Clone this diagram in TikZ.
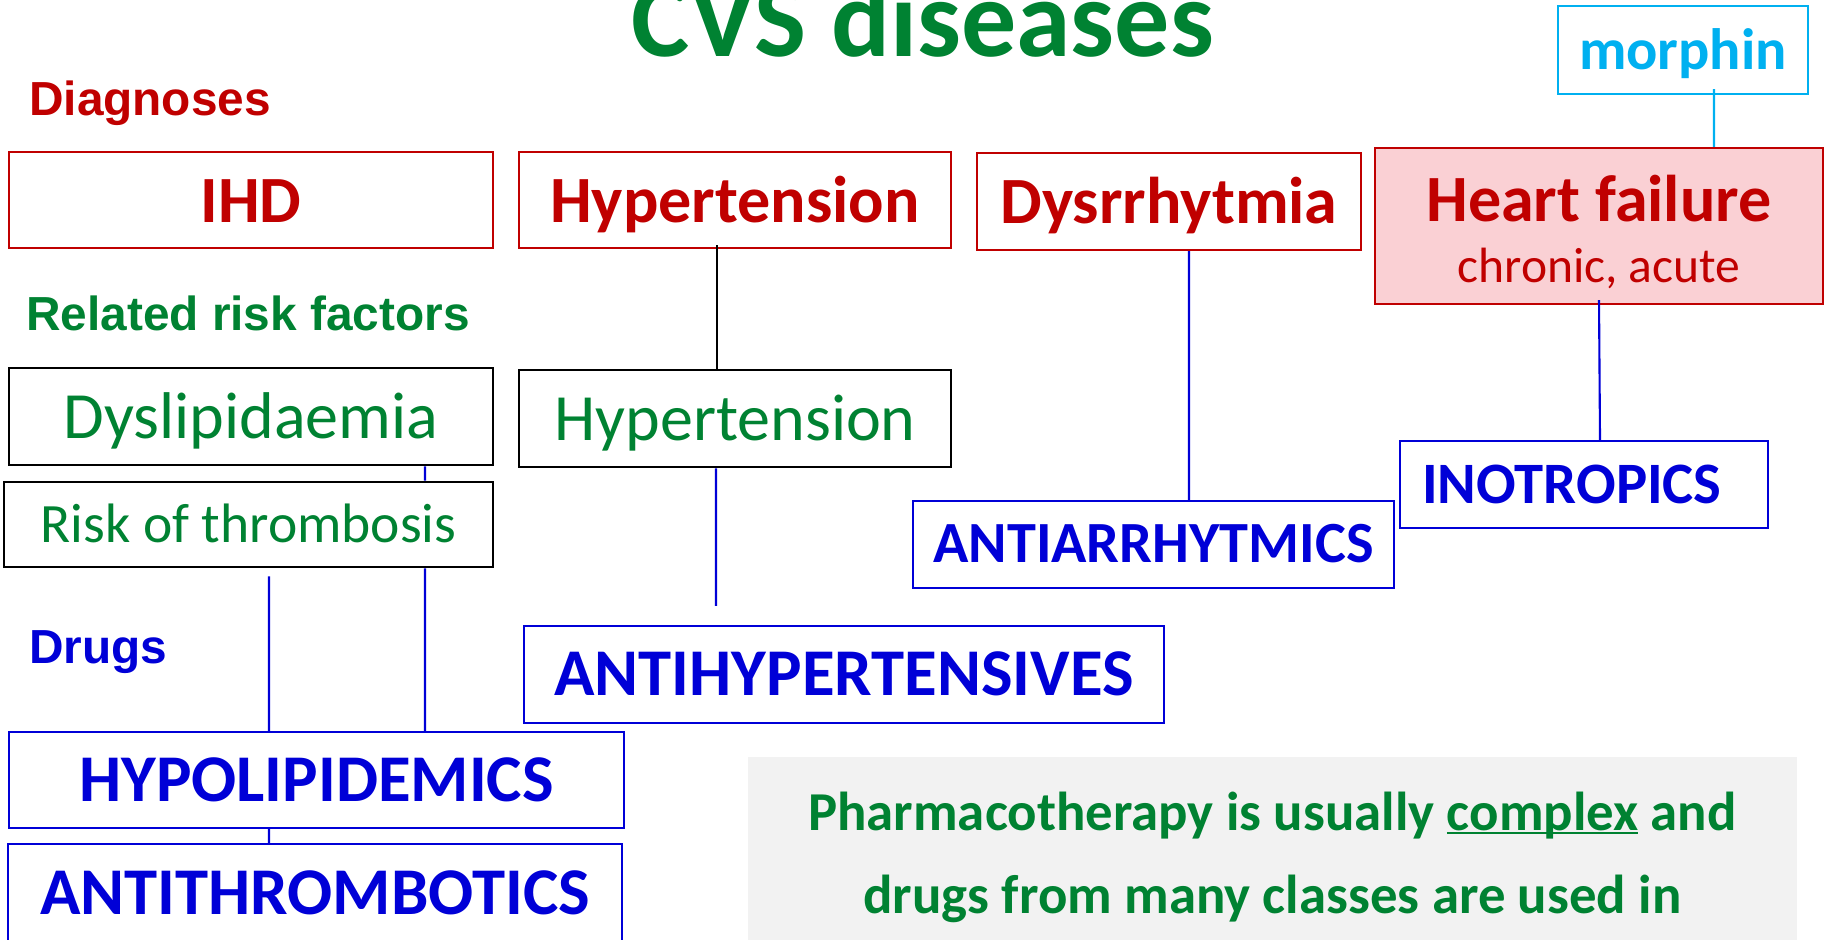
\documentclass[tikz,border=0pt]{standalone}
\usepackage{fontspec}
\setmainfont{Carlito}
\newfontfamily\arialfont{Liberation Sans}
\usetikzlibrary{positioning}

\definecolor{cvsred}{RGB}{192,0,0}
\definecolor{cvsgreen}{RGB}{0,130,50}
\definecolor{cvsblue}{RGB}{0,0,215}
\definecolor{cvscyan}{RGB}{0,176,240}
\definecolor{hfpink}{RGB}{250,208,212}
\definecolor{notegray}{RGB}{242,242,242}

\newcommand{\cvsul}[1]{\setbox0\hbox{#1}\rlap{\rule[-1.1pt]{\wd0}{0.45pt}}#1}

\begin{document}
\begin{tikzpicture}[x=0.1mm, y=-0.1mm,
            box/.style = {draw, line width=0.6pt, inner sep=0pt,
                align=center, fill=white},
            diag/.style = {box, draw=cvsred, text=cvsred, text height=12.6pt, text depth=0pt,
                font=\bfseries\fontsize{18.8}{22}\selectfont},
            risk/.style = {box, draw=black, line width=0.8pt, text=cvsgreen,
                text height=12.4pt, text depth=0pt, font=\fontsize{18.8}{22}\selectfont},
            drug/.style = {box, draw=cvsblue, text=cvsblue, text height=12.2pt, text depth=0pt,
                font=\bfseries\fontsize{19}{22}\selectfont},
            rowlabel/.style = {anchor=base west, inner sep=0pt,
                font=\arialfont\bfseries\fontsize{13.6}{16}\selectfont},
            link/.style = {draw=cvsblue, line width=0.6pt}]
            \useasboundingbox (0,0) rectangle (1829,939);
            \node[anchor=base, text=cvsgreen,
                font=\bfseries\fontsize{31.3}{36}\selectfont] (title) at (923,56) {CVS diseases};
            % row labels
            \node[rowlabel, text=cvsred] (lbldiag) at (28.5,115) {Diagnoses};
            \node[rowlabel, text=cvsgreen] (lblrisk) at (25.5,330) {Related risk factors};
            \node[rowlabel, text=cvsblue] (lbldrug) at (28.5,663) {Drugs};
            % diagnoses
            \node[diag, minimum width=48.4mm, minimum height=9.6mm] (ihd) at (251,200) {IHD};
            \node[diag, minimum width=43.2mm, minimum height=9.6mm] (hyp) at (735,200) {Hypertension};
            \node[diag, minimum width=38.4mm, minimum height=9.7mm] (dys) at (1169,201.5) {Dysrrhytmia};
            \node[box, draw=cvsred, text=cvsred, fill=hfpink, minimum width=44.8mm, minimum height=15.6mm,
                font=\fontsize{14.1}{17.4}\selectfont] (hf) at (1599,226)
                {{\bfseries\fontsize{18.8}{22}\selectfont\rule{0pt}{16.4pt}Heart failure}\\chronic, acute};
            \node[box, draw=cvscyan, text=cvscyan, font=\bfseries\fontsize{16.6}{20}\selectfont,
                text height=11pt, text depth=0pt,
                minimum width=25mm, minimum height=8.8mm] (morph) at (1683,50) {morphin};
            % risk factors
            \node[risk, minimum width=48.4mm, minimum height=9.7mm] (dyslip) at (251,416.5) {Dyslipidaemia};
            \node[risk, minimum width=43.2mm, minimum height=9.7mm] (hyprisk) at (735,418.5) {Hypertension};
            \node[risk, font=\fontsize{15.8}{18}\selectfont, text height=10.3pt,
                minimum width=48.9mm, minimum height=8.5mm] (thromb) at (248.5,524.5) {Risk of thrombosis};
            % drugs
            \node[drug, text height=11.9pt,
                minimum width=64mm, minimum height=9.7mm] (antihyp) at (844,674.5) {ANTIHYPERTENSIVES};
            \node[drug, font=\bfseries\fontsize{16.6}{20}\selectfont, text height=10.2pt,
                minimum width=48.1mm, minimum height=8.7mm] (antiarr) at (1153.5,544.5) {ANTIARRHYTMICS};
            \node[drug, font=\bfseries\fontsize{16.7}{20}\selectfont, text height=10.6pt, text width=32.4mm,
                align=left, inner xsep=2.2mm, minimum height=8.7mm] (ino) at (1584,484.5) {INOTROPICS};
            \node[drug, minimum width=61.5mm, minimum height=9.6mm] (hypolip) at (316.5,780) {HYPOLIPIDEMICS};
            \node[drug, minimum width=61.4mm, minimum height=9.8mm] (antithr) at (315,893) {ANTITHROMBOTICS};
            \node[fill=notegray, inner sep=0pt, minimum width=104.9mm, minimum height=20mm,
                align=center, text=cvsgreen, font=\bfseries\fontsize{15.6}{23.6}\selectfont] (note)
                at (1272.5,857) {Pharmacotherapy is usually \cvsul{complex} and\\drugs from many classes are used in};
            % connectors
            \draw[line width=0.6pt] ([xshift=-1.8mm,yshift=0.4mm]hyp.south) -- ([xshift=-1.8mm]hyprisk.north);
            \draw[link] ([xshift=-1.9mm]hyprisk.south) -- ([xshift=-12.8mm,yshift=1.9mm]antihyp.north);
            \draw[link] ([xshift=17.4mm]dyslip.south) -- ([xshift=17.65mm]thromb.north);
            \draw[link] ([xshift=17.65mm]thromb.south) -- ([xshift=10.85mm]hypolip.north);
            \draw[link] ([xshift=2.05mm,yshift=-0.8mm]thromb.south) -- ([xshift=-4.75mm]hypolip.north);
            \draw[link] ([xshift=-4.75mm]hypolip.south) -- ([xshift=-4.6mm]antithr.north);
            \draw[link] ([xshift=2mm]dys.south) -- ([xshift=3.55mm]antiarr.north);
            \draw[link] ([yshift=0.5mm]hf.south) -- ([xshift=1.6mm]ino.north);
            \draw[cvscyan, line width=0.6pt] ([xshift=3.1mm,yshift=0.6mm]morph.south) -- ([xshift=11.5mm]hf.north);
\end{tikzpicture}
\end{document}
